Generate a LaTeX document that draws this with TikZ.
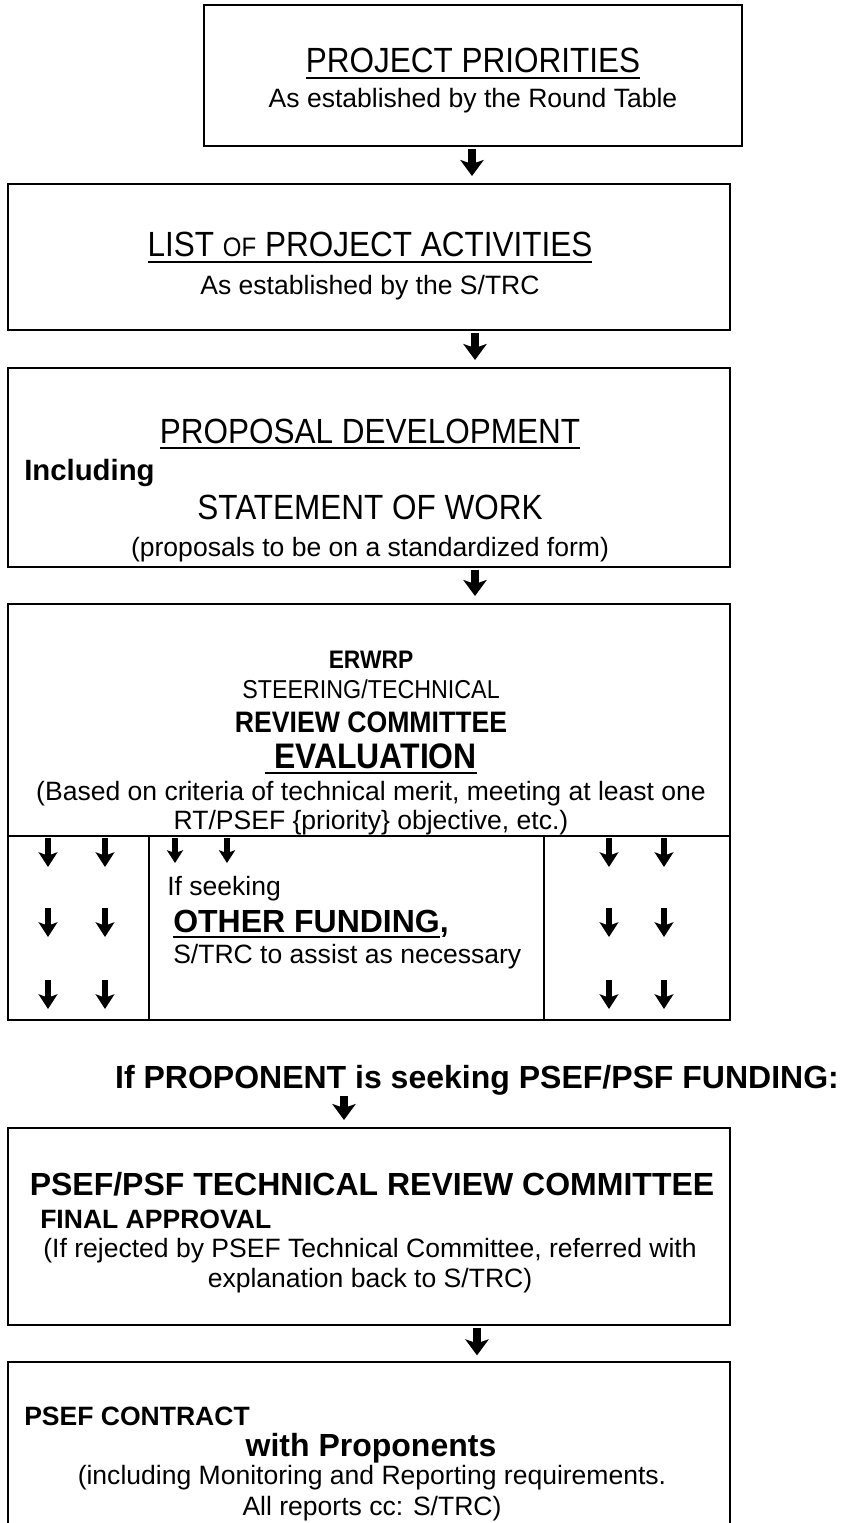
\documentclass[tikz,border=0pt]{standalone}
\usepackage{fontspec}
\setmainfont{Liberation Sans}
\newfontfamily\narrow{Liberation Sans}[FakeStretch=0.9]
\usetikzlibrary{arrows.meta,fit}
\newsavebox{\ulbox}
\newcommand{\ulin}[1]{\sbox{\ulbox}{#1}\rlap{\rule[-4.5pt]{\wd\ulbox}{1.5pt}}\usebox{\ulbox}}

\begin{document}
\begin{tikzpicture}[x=0.75pt,y=-0.75pt,
    box/.style={draw,line width=2pt,inner sep=0pt},
    txt/.style={inner sep=0pt,anchor=base},
    ltxt/.style={inner sep=0pt,anchor=base west},
    head/.style={font=\narrow\fontsize{26.25}{30}\selectfont},
    body/.style={font=\fontsize{19.9}{24}\selectfont},
    bighd/.style={font=\fontsize{24}{28}\selectfont\bfseries},
    midhd/.style={font=\fontsize{19.9}{24}\selectfont\bfseries},
    flow/.style={line width=5.5pt,-{Stealth[length=12pt,width=17.5pt,inset=3pt]},
      shorten <=1pt,shorten >=5pt},
    cellarr/.style={line width=4.5pt,-{Stealth[length=11pt,width=14pt,inset=2.5pt]}},
    minarr/.style={line width=3.8pt,-{Stealth[length=9.5pt,width=12pt,inset=2pt]}}]

  \useasboundingbox (0,0) rectangle (842,1523);

  % boxes
  \node[box,fit={(204,5) (742,146)}] (b1) {};
  \node[box,fit={(8,184) (730,330)}] (b2) {};
  \node[box,fit={(8,368) (730,567)}] (b3) {};
  \node[box,fit={(8,604) (730,1020)}] (b4) {};
  \node[box,fit={(8,1128) (730,1325)}] (b5) {};
  \node[inner sep=0pt,outer sep=0pt,fit={(8,1362) (730,1523)}] (b6) {};
  \draw[line width=2pt] (b6.south west) |- (b6.north east) -- (b6.south east);

  % cells of the evaluation box
  \draw[line width=2pt] (b4.west |- 0,836) -- (b4.east |- 0,836)
    (149,836) -- (149,1020) (544,836) -- (544,1020);

  % texts
  \node[txt,head] (t1) at (473,73) {\ulin{PROJECT PRIORITIES}};
  \node[txt,body] (s1) at (473,108) {As established by the Round Table};

  \node[txt,head] (t2) at (370,257)
    {\ulin{LIST {\fontsize{20}{24}\selectfont OF} PROJECT ACTIVITIES}};
  \node[txt,body] (s2) at (370,294) {As established by the S/TRC};

  \node[txt,head] (t3) at (370,443) {\ulin{PROPOSAL DEVELOPMENT}};
  \node[ltxt,font=\fontsize{22}{26}\selectfont\bfseries] (inc) at (24,480) {Including};
  \node[txt,head] (sow) at (370,519) {STATEMENT OF WORK};
  \node[txt,body] (s3) at (370,556) {(proposals to be on a standardized form)};

  \node[txt,font=\narrow\fontsize{19}{23}\selectfont\bfseries] (erw) at (371,668) {ERWRP};
  \node[txt,font=\narrow\fontsize{19.4}{23}\selectfont] (stc) at (371,698) {STEERING/TECHNICAL};
  \node[txt,font=\narrow\fontsize{22.2}{26}\selectfont\bfseries] (rc) at (371,732) {REVIEW COMMITTEE};
  \node[txt,font=\narrow\fontsize{26.6}{31}\selectfont\bfseries] (ev) at (371,768) {\ulin{~EVALUATION}};
  \node[txt,body] (cr1) at (371,800)
    {(Based on criteria of technical merit, meeting at least one};
  \node[txt,body] (cr2) at (371,829) {RT/PSEF \{priority\} objective, etc.)};

  \node[ltxt,body] (seek) at (167,895) {If seeking};
  \node[ltxt,bighd] (oth) at (173,932) {\ulin{OTHER FUNDING},};
  \node[ltxt,body] (asst) at (173,963) {S/TRC to assist as necessary};

  \node[txt,bighd] (ask) at (477,1088) {If PROPONENT is seeking PSEF/PSF FUNDING:};

  \node[txt,bighd] (t5) at (372,1195) {PSEF/PSF TECHNICAL REVIEW COMMITTEE};
  \node[ltxt,midhd] (fa) at (40,1228) {FINAL APPROVAL};
  \node[txt,body] (rj1) at (370,1257)
    {(If rejected by PSEF Technical Committee, referred with};
  \node[txt,body] (rj2) at (370,1287) {explanation back to S/TRC)};

  \node[ltxt,midhd] (pc) at (24,1425) {PSEF CONTRACT};
  \node[txt,bighd] (wp) at (371,1456) {with Proponents};
  \node[txt,body] (mr1) at (372,1484) {(including Monitoring and Reporting requirements.};
  \node[txt,body] (mr2) at (372,1515) {All reports cc: S/TRC)};

  % connectors
  \coordinate (x1) at (472,0);
  \coordinate (x2) at (475,0);
  \coordinate (x4) at (344,0);
  \coordinate (x5) at (477,0);
  \draw[flow] (x1 |- b1.south) -- (x1 |- b2.north);
  \draw[flow] (x2 |- b2.south) -- (x2 |- b3.north);
  \draw[flow] (x2 |- b3.south) -- (x2 |- b4.north);
  \draw[flow] (x4 |- ask.south) -- (x4 |- b5.north);
  \draw[flow] (x5 |- b5.south) -- (x5 |- b6.north);

  % arrows inside the cells
  \foreach \x in {48,105,609,664}
    \foreach \y in {838,908,980}
      \draw[cellarr] (\x,\y) -- ++(0,29);
  \foreach \x in {175,227}
    \draw[minarr] (\x,838) -- ++(0,25);

\end{tikzpicture}
\end{document}
